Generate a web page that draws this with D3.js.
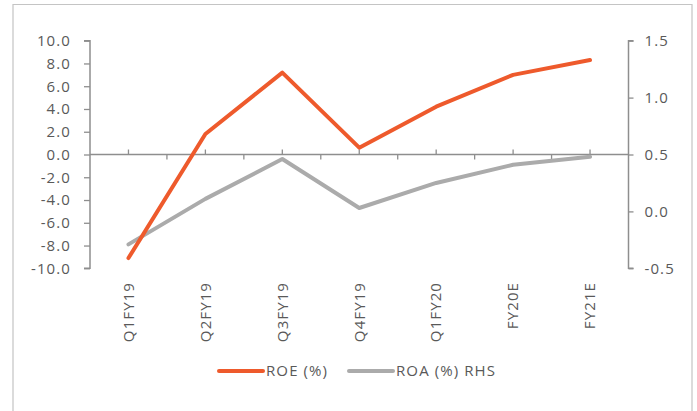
<!DOCTYPE html>
<html>
<head>
<meta charset="utf-8">
<script src="https://cdn.jsdelivr.net/npm/d3@7"></script>
<style>
  html, body { margin: 0; padding: 0; background: #fff; }
  svg { display: block; font-family: "Open Sans", "Lato", sans-serif; }
  svg text { letter-spacing: 1.1px; }
</style>
</head>
<body>
<svg id="chart" width="697" height="411"></svg>
<script>
// Quarterly / annual return ratios
const categories = ["Q1FY19", "Q2FY19", "Q3FY19", "Q4FY19", "Q1FY20", "FY20E", "FY21E"];
const roe = [-9.1, 1.8, 7.2, 0.6, 4.2, 7.0, 8.3];
const roa = [-0.29, 0.11, 0.46, 0.03, 0.25, 0.41, 0.48];
const leftTicks = [-10, -8, -6, -4, -2, 0, 2, 4, 6, 8, 10];
const rightTicks = [-0.5, 0, 0.5, 1.0, 1.5];
const seriesNames = ["ROE (%)", "ROA (%) RHS"];

const svg = d3.select("#chart");
const textColor = "#595959";
const axisColor = "#8e8e8e";
const roeColor = "#ee5a2c";
const roaColor = "#ababab";

// one decimal, plain hyphen for negatives
const fmt = d3.formatLocale({ decimal: ".", thousands: ",", grouping: [3], currency: ["", ""], minus: "-" }).format(".1f");

// outer frame (left, top, right)
svg.append("path")
  .attr("d", "M13,411 L13,4.5 L692,4.5 L692,411")
  .attr("fill", "none")
  .attr("stroke", "#c4c4c4")
  .attr("stroke-width", 1.2);

const plotLeft = 90, plotRight = 628.5, plotTop = 40.7, plotBottom = 268.3;

const x = d3.scaleBand().domain(categories).range([plotLeft, plotRight]).padding(0);
const yL = d3.scaleLinear().domain([-10, 10]).range([plotBottom, plotTop]);
const yR = d3.scaleLinear().domain([-0.5, 1.5]).range([plotBottom, plotTop]);
const cx = d => x(d) + x.bandwidth() / 2;

// left axis
const gL = svg.append("g").attr("transform", `translate(${plotLeft},0)`)
  .call(d3.axisLeft(yL).tickValues(leftTicks).tickFormat(fmt).tickSize(6).tickPadding(13));
// right axis
const gR = svg.append("g").attr("transform", `translate(${plotRight},0)`)
  .call(d3.axisRight(yR).tickValues(rightTicks).tickFormat(fmt).tickSize(5).tickPadding(11));

[gL, gR].forEach(g => {
  g.select(".domain").attr("stroke", axisColor).attr("stroke-width", 1.5);
  g.selectAll(".tick line").attr("stroke", axisColor).attr("stroke-width", 1.3);
  g.selectAll(".tick text").attr("fill", textColor).attr("font-size", 15)
    .attr("font-family", "'Open Sans', sans-serif");
});
gL.select(".domain").attr("d", `M-6,${plotBottom}H0V${plotTop}H-6`);
gR.select(".domain").attr("d", `M5,${plotBottom}H0V${plotTop}H5`);

// category axis along zero line
const y0 = yL(0);
const gX = svg.append("g");
gX.append("line")
  .attr("x1", plotLeft).attr("x2", plotRight)
  .attr("y1", y0).attr("y2", y0)
  .attr("stroke", axisColor).attr("stroke-width", 1.5);
// ticks at category centres (up) and at boundaries (down)
gX.selectAll(".ctick").data(categories).join("line")
  .attr("x1", d => cx(d)).attr("x2", d => cx(d))
  .attr("y1", y0).attr("y2", y0 - 5)
  .attr("stroke", axisColor).attr("stroke-width", 1.3);
gX.selectAll(".btick").data(categories.slice(1)).join("line")
  .attr("x1", d => x(d)).attr("x2", d => x(d))
  .attr("y1", y0).attr("y2", y0 + 5)
  .attr("stroke", axisColor).attr("stroke-width", 1.3);

// rotated category labels below plot
svg.append("g").selectAll("text").data(categories).join("text")
  .attr("transform", d => `translate(${cx(d)},282) rotate(-90)`)
  .attr("dy", "0.35em")
  .attr("text-anchor", "end")
  .attr("fill", textColor)
  .attr("font-size", 15)
  .text(d => d);

// series lines
const lineL = d3.line().x((d, i) => cx(categories[i])).y(d => yL(d));
const lineR = d3.line().x((d, i) => cx(categories[i])).y(d => yR(d));

svg.append("path").datum(roa)
  .attr("d", lineR)
  .attr("fill", "none").attr("stroke", roaColor)
  .attr("stroke-width", 4).attr("stroke-linejoin", "round").attr("stroke-linecap", "round");
svg.append("path").datum(roe)
  .attr("d", lineL)
  .attr("fill", "none").attr("stroke", roeColor)
  .attr("stroke-width", 4).attr("stroke-linejoin", "round").attr("stroke-linecap", "round");

// legend
const legend = [
  { name: seriesNames[0], color: roeColor, x0: 219 },
  { name: seriesNames[1], color: roaColor, x0: 349 }
];
const lg = svg.append("g").selectAll("g").data(legend).join("g")
  .attr("transform", d => `translate(${d.x0},371)`);
lg.append("line")
  .attr("x1", 0).attr("x2", 44).attr("y1", 0).attr("y2", 0)
  .attr("stroke", d => d.color).attr("stroke-width", 4).attr("stroke-linecap", "round");
lg.append("text")
  .attr("x", 47).attr("dy", "0.35em")
  .attr("fill", textColor).attr("font-size", 15)
  .text(d => d.name);
</script>
</body>
</html>
